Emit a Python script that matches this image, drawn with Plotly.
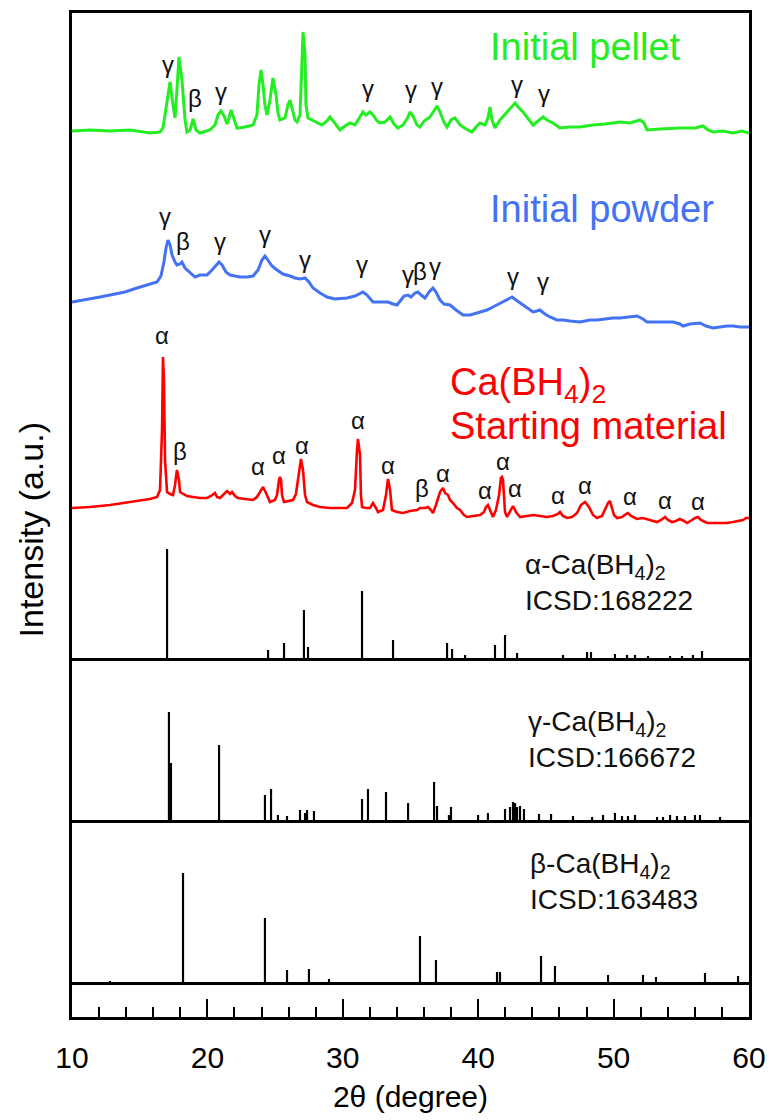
import plotly.graph_objects as go
from plotly.subplots import make_subplots

# ---------------- data (2theta in degree, intensity in a.u., stacked) ----------------
pellet_2theta = [10.00, 11.33, 12.81, 14.28, 15.76, 16.50, 16.72, 16.94, 17.24, 17.46, 17.61, 17.75, 17.90, 18.12,
                 18.35, 18.49, 18.72, 18.94, 19.16, 19.45, 20.19, 20.56, 20.78, 21.00, 21.23, 21.45, 21.60, 21.74,
                 21.96, 22.19, 22.78, 23.37, 23.66, 23.81, 23.96, 24.11, 24.25, 24.40, 24.62, 24.84, 25.07, 25.21,
                 25.36, 25.73, 25.95, 26.10, 26.25, 26.47, 26.62, 26.84, 26.99, 27.06, 27.21, 27.28, 27.43, 27.73,
                 28.09, 28.46, 28.83, 29.05, 29.35, 29.79, 30.16, 30.53, 30.90, 31.20, 31.49, 31.71, 32.01, 32.23,
                 32.53, 32.75, 33.12, 33.49, 33.78, 34.08, 34.45, 34.82, 34.96, 35.18, 35.48, 35.70, 36.00, 36.44,
                 36.74, 36.96, 37.18, 37.47, 37.70, 37.99, 38.29, 38.66, 39.10, 39.54, 39.84, 40.13, 40.50, 40.72,
                 40.87, 41.02, 41.24, 41.61, 42.13, 42.42, 42.72, 43.01, 43.31, 43.60, 44.05, 44.42, 44.79, 45.08,
                 45.52, 46.04, 46.78, 47.52, 48.48, 49.37, 50.47, 51.21, 51.95, 52.25, 52.47, 53.43, 54.90, 56.01,
                 56.60, 56.97, 57.34, 58.08, 58.82, 59.49, 60.00]
pellet_int = [527, 528, 527, 528, 525, 526, 530, 548, 576, 553, 540, 568, 601, 578,
              538, 526, 528, 539, 528, 525, 528, 533, 543, 547, 542, 534, 540, 548,
              538, 530, 531, 533, 543, 573, 588, 573, 553, 543, 558, 580, 563, 545,
              538, 540, 553, 558, 550, 538, 536, 543, 598, 626, 603, 553, 540, 538,
              535, 533, 537, 541, 536, 528, 532, 535, 533, 540, 546, 543, 546, 543,
              537, 535, 536, 541, 534, 530, 533, 541, 546, 542, 533, 531, 537, 541,
              547, 552, 546, 536, 531, 538, 540, 533, 529, 526, 531, 535, 533, 540,
              551, 538, 530, 538, 546, 550, 555, 550, 546, 541, 533, 537, 541, 538,
              535, 530, 531, 531, 533, 534, 536, 535, 538, 535, 528, 529, 530, 530,
              532, 528, 526, 527, 525, 527, 525]

powder_2theta = [10.00, 10.96, 12.07, 12.81, 13.91, 14.80, 15.54, 16.28, 16.57, 16.79, 16.94, 17.09, 17.24, 17.39,
                 17.61, 17.75, 17.98, 18.12, 18.35, 18.72, 19.08, 19.45, 19.97, 20.34, 20.64, 20.86, 21.08, 21.37,
                 21.67, 22.41, 22.92, 23.37, 23.74, 24.03, 24.25, 24.48, 24.77, 25.14, 25.58, 26.10, 26.47, 26.84,
                 27.21, 27.50, 27.80, 28.32, 28.83, 29.42, 30.31, 30.90, 31.27, 31.49, 31.79, 32.23, 32.75, 33.34,
                 33.71, 34.00, 34.30, 34.52, 34.82, 35.04, 35.33, 35.55, 35.78, 36.07, 36.37, 36.66, 36.88, 37.18,
                 37.47, 37.92, 38.36, 38.88, 39.40, 40.13, 40.65, 41.09, 41.61, 42.13, 42.50, 42.79, 43.09, 43.31,
                 43.68, 44.05, 44.34, 44.56, 44.93, 45.30, 45.82, 46.26, 46.78, 47.52, 48.26, 48.77, 49.37, 49.96,
                 50.47, 51.06, 51.73, 52.17, 52.47, 53.06, 53.80, 54.39, 54.90, 55.13, 55.64, 56.38, 56.83, 57.34,
                 57.86, 58.37, 58.82, 59.34, 60.00]
powder_int = [356, 358, 361, 363, 366, 370, 373, 376, 382, 396, 410, 418, 413, 403,
              396, 393, 394, 396, 390, 385, 381, 383, 383, 388, 393, 396, 393, 386,
              383, 381, 381, 382, 388, 398, 402, 398, 392, 388, 384, 382, 380, 379,
              380, 376, 370, 365, 361, 359, 360, 362, 365, 366, 363, 356, 356, 356,
              354, 353, 358, 362, 363, 361, 365, 366, 363, 360, 366, 370, 366, 358,
              354, 353, 348, 343, 343, 346, 348, 351, 355, 359, 361, 358, 355, 353,
              350, 346, 347, 348, 344, 341, 338, 338, 337, 336, 338, 338, 339, 340,
              340, 341, 342, 339, 336, 336, 336, 336, 334, 332, 334, 335, 332, 330,
              331, 332, 332, 331, 331]

start_2theta = [10.00, 11.33, 12.81, 13.91, 15.24, 15.76, 16.28, 16.50, 16.65, 16.72, 16.79, 16.87, 17.02, 17.24,
                17.46, 17.61, 17.75, 17.90, 17.98, 18.12, 18.49, 18.94, 19.45, 19.97, 20.27, 20.56, 20.71, 20.93,
                21.23, 21.45, 21.67, 21.82, 22.04, 22.26, 22.78, 23.37, 23.66, 23.88, 24.11, 24.33, 24.62, 24.99,
                25.14, 25.29, 25.36, 25.44, 25.51, 25.66, 26.10, 26.32, 26.54, 26.77, 26.91, 27.06, 27.21, 27.36,
                27.80, 28.32, 29.05, 29.79, 30.31, 30.68, 30.90, 31.05, 31.12, 31.27, 31.34, 31.42, 31.71, 32.01,
                32.23, 32.45, 32.60, 32.97, 33.19, 33.34, 33.49, 33.63, 34.00, 34.45, 34.96, 35.48, 35.70, 36.07,
                36.29, 36.51, 36.66, 36.88, 37.18, 37.40, 37.55, 37.77, 37.92, 38.14, 38.43, 38.66, 38.95, 39.17,
                39.62, 40.13, 40.43, 40.58, 40.72, 40.87, 41.09, 41.31, 41.54, 41.68, 41.76, 41.83, 41.91, 41.98,
                42.13, 42.35, 42.57, 42.79, 43.09, 43.60, 44.05, 44.56, 45.08, 45.52, 45.89, 46.04, 46.26, 46.56,
                46.93, 47.30, 47.59, 47.89, 48.18, 48.48, 48.77, 49.14, 49.44, 49.59, 49.73, 49.88, 50.03, 50.25,
                50.62, 50.92, 51.06, 51.29, 51.73, 52.17, 52.69, 53.21, 53.51, 53.80, 54.02, 54.31, 54.61, 54.90,
                55.20, 55.42, 55.79, 56.01, 56.23, 56.45, 56.75, 56.97, 57.49, 57.86, 58.37, 58.82, 59.19, 59.56,
                59.78, 60.00]
start_int = [150, 151, 153, 155, 158, 159, 161, 168, 228, 301, 278, 198, 166, 164,
             163, 173, 188, 178, 166, 165, 162, 161, 160, 160, 162, 165, 161, 160,
             164, 167, 164, 166, 162, 160, 159, 158, 161, 166, 171, 165, 156, 158,
             163, 178, 181, 178, 163, 156, 157, 158, 164, 188, 199, 188, 163, 156,
             153, 151, 150, 150, 150, 155, 168, 208, 219, 203, 163, 151, 150, 150,
             155, 150, 146, 148, 163, 179, 168, 148, 146, 145, 147, 148, 150, 150,
             151, 148, 145, 153, 166, 170, 165, 163, 158, 155, 150, 148, 143, 141,
             142, 143, 146, 151, 153, 148, 141, 148, 163, 180, 181, 178, 163, 146,
             141, 146, 152, 146, 141, 142, 143, 142, 141, 142, 144, 146, 142, 140,
             141, 145, 153, 156, 151, 143, 140, 142, 150, 155, 157, 151, 143, 140,
             141, 144, 145, 142, 139, 140, 138, 136, 138, 141, 138, 136, 137, 139,
             137, 135, 138, 140, 141, 138, 136, 135, 135, 135, 135, 136, 137, 138,
             140, 140]

# reference stick patterns (ICSD)
alpha_2theta = [17.02, 24.48, 25.66, 27.13, 27.43, 31.42, 33.71, 37.70, 38.07, 39.03, 41.24, 41.98, 42.87,
                46.26, 48.04, 48.33, 50.10, 50.99, 51.58, 52.54, 54.17, 55.05, 55.86, 56.53]
alpha_int = [109, 8, 15, 48, 11, 67, 18, 15, 9, 3, 13, 23, 5,
             3, 6, 6, 4, 3, 3, 2, 2, 2, 3, 7]

gamma_2theta = [17.16, 17.31, 20.86, 24.25, 24.70, 25.21, 25.88, 26.84, 27.21, 27.36, 27.87, 31.42, 31.86,
                33.19, 34.82, 36.74, 36.96, 37.84, 37.99, 39.99, 40.72, 41.98, 42.35, 42.57, 42.72, 42.87,
                43.09, 43.38, 44.49, 45.38, 47.00, 48.41, 49.22, 50.10, 50.62, 51.06, 51.58, 53.21, 53.65,
                54.17, 54.68, 55.27, 56.01, 56.38, 57.86]
gamma_int = [108, 57, 75, 25, 31, 5, 4, 10, 7, 10, 9, 21, 31,
             28, 17, 38, 14, 5, 13, 5, 7, 11, 13, 18, 17, 13,
             14, 11, 6, 6, 4, 3, 5, 7, 4, 4, 5, 3, 3,
             5, 4, 4, 5, 5, 3]

beta_2theta = [12.81, 18.20, 24.25, 25.88, 27.50, 28.98, 35.70, 36.88, 41.39, 41.61, 44.64, 45.67, 49.59,
               52.17, 53.13, 56.75, 59.19]
beta_int = [1, 109, 64, 12, 13, 3, 46, 22, 10, 10, 26, 16, 7,
            7, 5, 9, 6]

# phase marks above peaks
pellet_marks_2theta = [17.09, 19.08, 21.00, 31.86, 35.04, 36.96, 42.87, 44.86]
pellet_marks_y = [590, 558, 563, 566, 565, 568, 570, 561]
pellet_marks = ["γ", "β", "γ", "γ", "γ", "γ", "γ", "γ"]

powder_marks_2theta = [16.87, 18.20, 20.93, 24.25, 27.21, 31.42, 34.82, 35.70, 36.81, 42.57, 44.79]
powder_marks_y = [438, 415, 413, 420, 395, 390, 380, 385, 388, 378, 373]
powder_marks = ["γ", "β", "γ", "γ", "γ", "γ", "γ", "β", "γ", "γ", "γ"]

start_marks_2theta = [16.65, 17.98, 23.74, 25.29, 26.99, 31.12, 33.34, 35.85, 37.40, 40.50, 41.83, 42.72,
                      45.89, 47.89, 51.21, 53.80, 56.23]
start_marks_y = [321, 205, 190, 201, 211, 236, 191, 168, 183, 166, 195, 168, 161, 171, 160, 156, 155]
start_marks = ["α", "β", "α", "α", "α", "α", "α", "β", "α", "α", "α", "α", "α", "α", "α", "α", "α"]

x_ticks = [10, 20, 30, 40, 50, 60]

# ---------------- figure ----------------
FONT = "Liberation Sans, Arial, sans-serif"
GREEN = "#22EE22"
BLUE = "#4472F4"
RED = "#FF0000"

fig = make_subplots(rows=4, cols=1, shared_xaxes=True, vertical_spacing=0,
                    row_heights=[645, 162, 162, 35])

fig.add_trace(go.Scatter(x=pellet_2theta, y=pellet_int, mode="lines",
                         line=dict(color=GREEN, width=3)), row=1, col=1)
fig.add_trace(go.Scatter(x=powder_2theta, y=powder_int, mode="lines",
                         line=dict(color=BLUE, width=3)), row=1, col=1)
fig.add_trace(go.Scatter(x=start_2theta, y=start_int, mode="lines",
                         line=dict(color=RED, width=2.6)), row=1, col=1)

for xs, ys, r in [(alpha_2theta, alpha_int, 1), (gamma_2theta, gamma_int, 2), (beta_2theta, beta_int, 3)]:
    fig.add_trace(go.Bar(x=xs, y=ys, width=0.16, marker=dict(color="black", line=dict(width=0))),
                  row=r, col=1)

# empty trace so that the bottom tick strip subplot is drawn
fig.add_trace(go.Scatter(x=x_ticks, y=[None] * len(x_ticks), mode="lines", hoverinfo="skip"),
              row=4, col=1)

# phase marks
for xs, ys, ts in [(pellet_marks_2theta, pellet_marks_y, pellet_marks),
                   (powder_marks_2theta, powder_marks_y, powder_marks),
                   (start_marks_2theta, start_marks_y, start_marks)]:
    for x, y, t in zip(xs, ys, ts):
        fig.add_annotation(x=x, y=y, xref="x", yref="y", text=t, showarrow=False,
                           font=dict(family=FONT, size=24, color="#111111"),
                           yshift=4 if t == "γ" else 2)

# curve labels
fig.add_annotation(x=40.72, y=611, xref="x", yref="y", text="Initial pellet", showarrow=False,
                   xanchor="left", font=dict(family=FONT, size=38, color=GREEN))
fig.add_annotation(x=40.72, y=449, xref="x", yref="y", text="Initial powder", showarrow=False,
                   xanchor="left", font=dict(family=FONT, size=38, color=BLUE))
fig.add_annotation(x=37.77, y=273, xref="x", yref="y", text="Ca(BH<sub>4</sub>)<sub>2</sub>",
                   showarrow=False, xanchor="left", font=dict(family=FONT, size=38, color=RED))
fig.add_annotation(x=37.77, y=232, xref="x", yref="y", text="Starting material",
                   showarrow=False, xanchor="left", font=dict(family=FONT, size=38, color=RED))

# reference labels
ref_labels = [("α-Ca(BH<sub>4</sub>)<sub>2</sub><br>ICSD:168222", 43.31, 76, "x", "y"),
              ("γ-Ca(BH<sub>4</sub>)<sub>2</sub><br>ICSD:166672", 43.53, 81, "x2", "y2"),
              ("β-Ca(BH<sub>4</sub>)<sub>2</sub><br>ICSD:163483", 43.68, 101, "x3", "y3")]
for t, x, y, xr, yr in ref_labels:
    fig.add_annotation(x=x, y=y, xref=xr, yref=yr, text=t, showarrow=False, xanchor="left",
                       align="left", font=dict(family=FONT, size=28, color="#111111"))

# y axis title
fig.add_annotation(x=-0.06, y=0.485, xref="paper", yref="paper", text="Intensity (a.u.)",
                   textangle=-90, showarrow=False, xanchor="center", yanchor="middle",
                   font=dict(family=FONT, size=34, color="black"))

axis_common = dict(showline=True, linecolor="black", linewidth=2.5,
                   showgrid=False, zeroline=False, automargin=False)
for i in range(1, 5):
    xa = dict(axis_common, range=[10, 60], mirror=(i == 1))
    if i < 4:
        xa.update(ticks="", showticklabels=False)
    else:
        xa.update(ticks="inside", ticklen=18, tickwidth=2, tickcolor="black",
                  tickvals=x_ticks, showticklabels=True, ticklabelstandoff=12,
                  tickfont=dict(family=FONT, size=30, color="black"),
                  minor=dict(ticks="inside", ticklen=10, tickwidth=2, tickcolor="black",
                             dtick=2, tick0=10, showgrid=False),
                  title=dict(text="2θ (degree)", standoff=14,
                             font=dict(family=FONT, size=30, color="black")))
    fig.update_layout({f"xaxis{'' if i == 1 else i}": xa})

fig.update_layout(
    yaxis=dict(axis_common, mirror=True, range=[0, 645], ticks="", showticklabels=False),
    yaxis2=dict(axis_common, mirror=True, range=[0, 162], ticks="", showticklabels=False),
    yaxis3=dict(axis_common, mirror=True, range=[0, 162], ticks="", showticklabels=False),
    yaxis4=dict(axis_common, mirror=True, range=[0, 1], ticks="", showticklabels=False),
    width=773, height=1120,
    margin=dict(l=72, r=24, t=13, b=103),
    plot_bgcolor="white", paper_bgcolor="white",
    showlegend=False, barmode="overlay",
    font=dict(family=FONT, color="black"),
)

fig.write_html("out.html")
